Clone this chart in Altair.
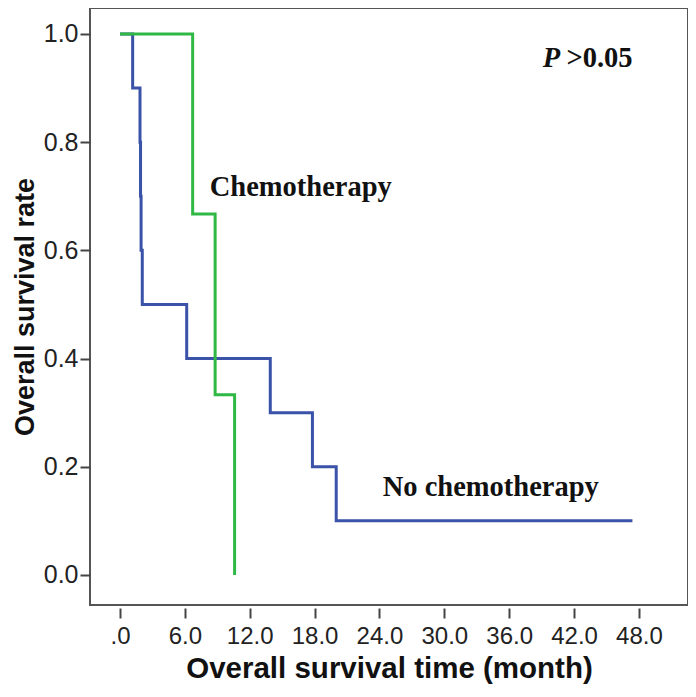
import altair as alt
import pandas as pd

# Kaplan-Meier data
chemo_time = [0.0, 6.72, 8.8, 10.6]
chemo_surv = [1.0, 0.667, 0.333, 0.0]

nochemo_time = [0.0, 1.17, 1.85, 1.9, 1.95, 2.06, 6.17, 13.9, 17.8, 20.0, 47.4]
nochemo_surv = [1.0, 0.9, 0.8, 0.7, 0.6, 0.5, 0.4, 0.3, 0.2, 0.1, 0.1]

x_ticks = [0, 6, 12, 18, 24, 30, 36, 42, 48]
y_ticks = [0.0, 0.2, 0.4, 0.6, 0.8, 1.0]

label_text = ["Chemotherapy", "No chemotherapy"]
label_x = [8.3, 24.3]
label_y = [0.717, 0.163]

df = pd.concat([
    pd.DataFrame({"t": nochemo_time, "s": nochemo_surv, "g": "No chemotherapy", "o": 0}),
    pd.DataFrame({"t": chemo_time, "s": chemo_surv, "g": "Chemotherapy", "o": 1}),
])

xs = alt.Scale(domain=[-2.775, 52.54], nice=False, zero=False)
ys = alt.Scale(domain=[-0.0555, 1.048], nice=False, zero=False)

lines = alt.Chart(df).mark_line(interpolate="step-after", strokeWidth=3).encode(
    x=alt.X("t:Q", scale=xs,
            axis=alt.Axis(values=x_ticks, title="Overall survival time (month)",
                          labelExpr="datum.value == 0 ? '.0' : format(datum.value, '.1f')",
                          domain=False, grid=False, offset=3, tickSize=10,
                          tickColor="#444", tickWidth=2, labelPadding=6,
                          labelFontSize=24, labelFont="Liberation Sans", labelColor="#222",
                          titleFont="Liberation Sans", titleFontSize=29.5, titleFontWeight="bold",
                          titleColor="#111", titlePadding=6)),
    y=alt.Y("s:Q", scale=ys,
            axis=alt.Axis(values=y_ticks, format=".1f", title="Overall survival rate",
                          domain=False, grid=False, tickSize=10,
                          tickColor="#444", tickWidth=2, labelPadding=2,
                          labelFontSize=25, labelFont="Liberation Sans", labelColor="#222",
                          titleFont="Liberation Sans", titleFontSize=27, titleFontWeight="bold",
                          titleColor="#111", titlePadding=4)),
    color=alt.Color("g:N", scale=alt.Scale(domain=["No chemotherapy", "Chemotherapy"],
                                           range=["#3a52a8", "#2fb844"]), legend=None),
    detail="g:N",
    order="o:Q",
)

labels = alt.Chart(pd.DataFrame({"text": label_text, "x": label_x, "y": label_y})).mark_text(
    align="left", baseline="middle", font="Liberation Serif", fontSize=28.5,
    fontWeight="bold", color="#111"
).encode(x=alt.X("x:Q", scale=xs), y=alt.Y("y:Q", scale=ys), text="text:N")

p_df = pd.DataFrame({"text": ["P"], "x": [39.1], "y": [0.956]})
p_lab = alt.Chart(p_df).mark_text(
    align="left", baseline="middle", font="Liberation Serif", fontSize=28.5,
    fontWeight="bold", fontStyle="italic", color="#111"
).encode(x=alt.X("x:Q", scale=xs), y=alt.Y("y:Q", scale=ys), text="text:N")

v_df = pd.DataFrame({"text": [">0.05"], "x": [41.3], "y": [0.956]})
v_lab = alt.Chart(v_df).mark_text(
    align="left", baseline="middle", font="Liberation Serif", fontSize=28.5,
    fontWeight="bold", color="#111"
).encode(x=alt.X("x:Q", scale=xs), y=alt.Y("y:Q", scale=ys), text="text:N")

chart = alt.layer(lines, labels, p_lab, v_lab).properties(
    width=598, height=597,
    autosize=alt.AutoSizeParams(type="none"),
    padding={"left": 82, "top": 0, "right": 0, "bottom": 80},
).configure_view(stroke="#555", strokeWidth=2)

chart.save("out.html", embed_options={"renderer": "svg", "actions": False})
